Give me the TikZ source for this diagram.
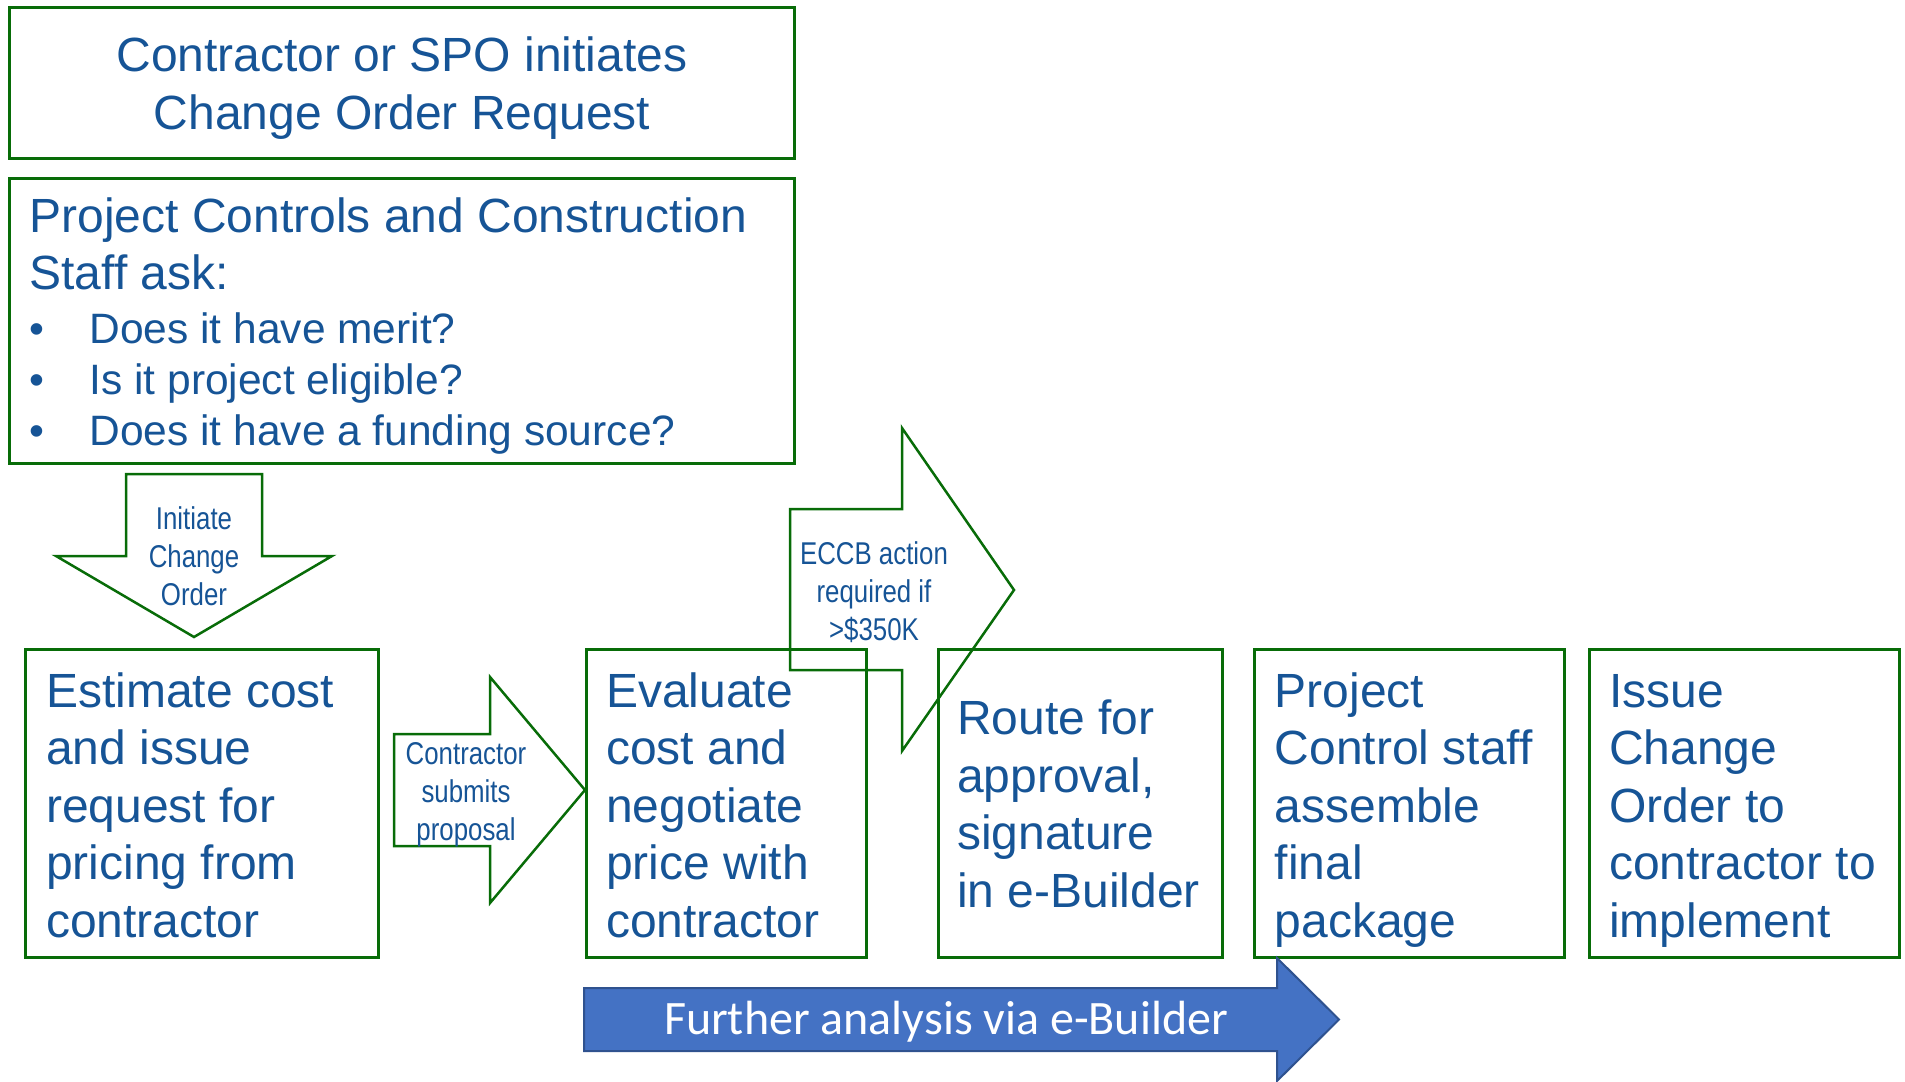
\documentclass[tikz,border=0pt]{standalone}
\usepackage{fontspec}
\setmainfont{Liberation Sans}
\newfontfamily\narrowfont[FakeStretch=0.82]{Liberation Sans}
\newfontfamily\calfont{Carlito}
\definecolor{txtblue}{RGB}{22,84,150}
\definecolor{boxgreen}{RGB}{8,108,8}
\definecolor{arrowfill}{RGB}{68,114,196}
\definecolor{arrowedge}{RGB}{47,82,143}

\begin{document}
\begin{tikzpicture}[x=1pt,y=-1pt,
  box/.style={draw=boxgreen, line width=3pt, inner sep=0pt, text=txtblue},
  stepbox/.style={box, minimum height=308pt},
  steptext/.style={anchor=north west, inner sep=0pt, text=txtblue, align=left,
    font=\fontsize{48}{57.6}\selectfont},
  blockarrow/.style={draw=boxgreen, line width=2.5pt, line join=miter},
  arrowlabel/.style={text=txtblue, align=center, inner sep=0pt,
    font=\narrowfont\fontsize{31.5}{38}\selectfont},
]
\useasboundingbox (0,0) rectangle (1905,1081);

% header boxes
\node[box, minimum width=785pt, minimum height=151pt, align=center,
  font=\fontsize{48}{57.6}\selectfont] (init) at (402,82.7)
  {\rule{0pt}{46pt}Contractor or SPO initiates\\Change Order Request};

\node[box, minimum width=785pt, minimum height=285pt] (ask) at (402,320.5)
  {\begin{minipage}{745pt}\raggedright\vspace*{12pt}
   \fontsize{48}{57}\selectfont Project Controls and Construction\\
   Staff ask:\par\vspace{3pt}
   \fontsize{42.5}{51}\selectfont
   \makebox[60pt][l]{\textbullet}Does it have merit?\par
   \makebox[60pt][l]{\textbullet}Is it project eligible?\par
   \makebox[60pt][l]{\textbullet}Does it have a funding source?\par
   \end{minipage}};

% process steps: frames
\node[stepbox, minimum width=352.5pt] (est)   at (201.75,803.5) {};
\node[stepbox, minimum width=280pt]   (eval)  at (726,803.5) {};
\node[stepbox, minimum width=284pt]   (route) at (1080,803.5) {};
\node[stepbox, minimum width=309.5pt] (proj)  at (1409.25,803.5) {};
\node[stepbox, minimum width=310pt]   (issue) at (1744,803.5) {};

% process steps: texts, top-aligned on a common first baseline
\node[steptext] (est-t) at ([shift={(22,18.5)}]est.north west)
  {\strut Estimate cost\\and issue\\request for\\pricing from\\contractor};
\node[steptext] (eval-t) at ([shift={(21.5,18.5)}]eval.north west)
  {\strut Evaluate\\cost and\\negotiate\\price with\\contractor};
\node[steptext] (route-t) at ([shift={(20.5,46)}]route.north west)
  {\strut Route for\\approval,\\signature\\\mbox{in e-Builder}};
\node[steptext] (proj-t) at ([shift={(21.5,18.5)}]proj.north west)
  {\strut Project\\\mbox{Control staff}\\assemble\\final\\package};
\node[steptext] (issue-t) at ([shift={(21.5,18.5)}]issue.north west)
  {\strut Issue\\Change\\Order to\\\mbox{contractor to}\\implement};

% block arrows between steps
\draw[blockarrow] (126,474) -- (262,474) -- (262,556) -- (332,556)
  -- (194,637) -- (56,556) -- (126,556) -- cycle;
\node[arrowlabel] (lblInit) at (194,556) {Initiate\\Change\\Order};

\draw[blockarrow] (394,734) -- (490,734) -- (490,677) -- (585,790)
  -- (490,903) -- (490,846) -- (394,846) -- cycle;
\node[arrowlabel] (lblProp) at (466,795) {Contractor\\submits\\proposal};

\draw[blockarrow] (790,509) -- (902,509) -- (902,428) -- (1014,590)
  -- (902,751) -- (902,670) -- (790,670) -- cycle;
\node[arrowlabel] (lblEccb) at (874,592) {ECCB action\\required if\\>\$350K};

% e-Builder banner arrow
\draw[fill=arrowfill, draw=arrowedge, line width=2pt, line join=miter]
  (584,988) -- (1277,988) -- (1277,958) -- (1339,1019.5)
  -- (1277,1081) -- (1277,1051) -- (584,1051) -- cycle;
\node[text=white, inner sep=0pt, font=\calfont\fontsize{48}{57.6}\selectfont]
  (further) at (946,1021.5) {Further analysis via e-Builder};
\end{tikzpicture}
\end{document}
